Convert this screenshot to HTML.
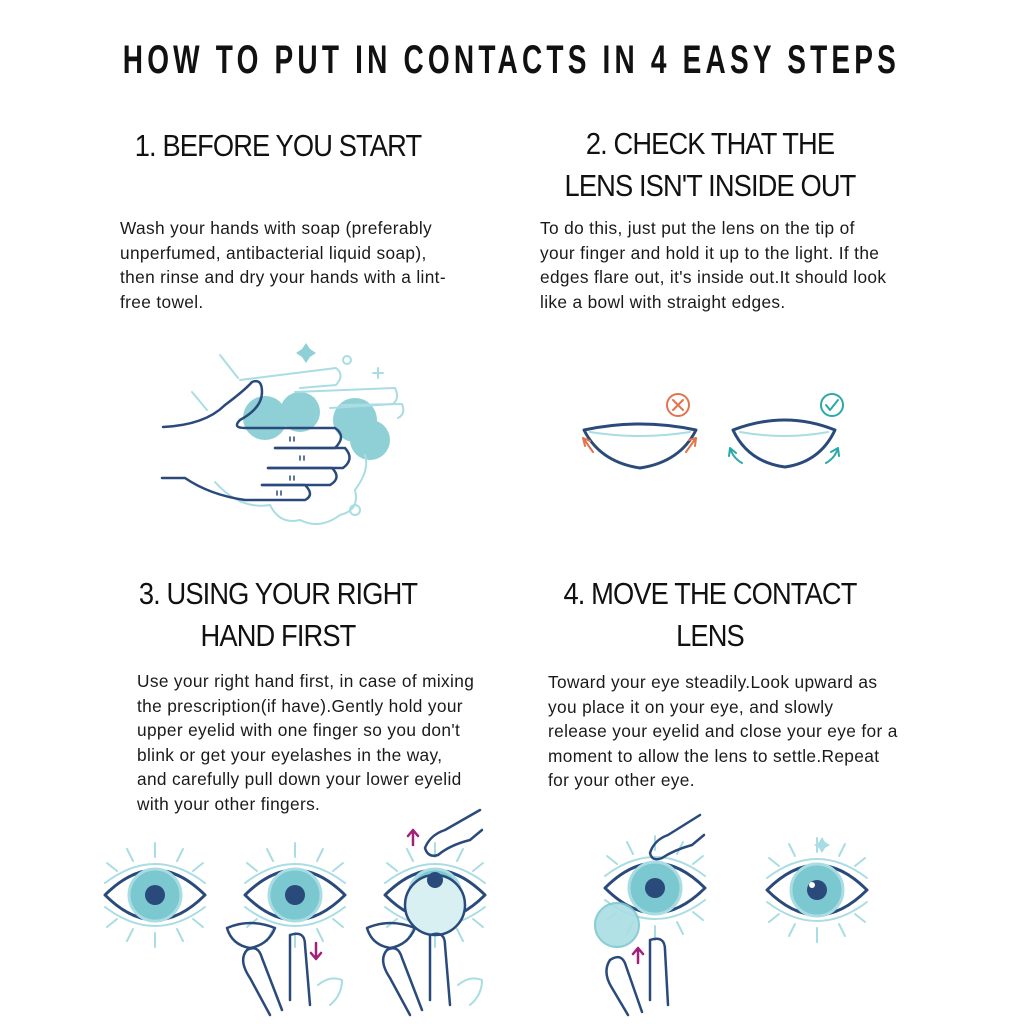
<!DOCTYPE html>
<html><head><meta charset="utf-8"><style>
html,body{margin:0;padding:0;background:#fff;}
body{width:1024px;height:1024px;position:relative;overflow:hidden;font-family:"Liberation Sans",sans-serif;color:#111;}
.t{position:absolute;white-space:nowrap;}
.title{left:-300px;width:1624px;text-align:center;top:38px;font-weight:bold;font-size:40px;letter-spacing:6px;transform:scaleX(0.70);transform-origin:810px 0;}
.h{font-size:31px;letter-spacing:-1px;text-align:center;width:440px;line-height:42px;color:#111;transform:scaleX(0.88);}
.p{font-size:17.3px;line-height:24.5px;color:#1a1a1a;letter-spacing:0.35px;}
</style></head><body>
<div class="t title">HOW TO PUT IN CONTACTS IN 4 EASY STEPS</div>

<div class="t h" style="left:58px;top:125px;">1. BEFORE YOU START</div>
<div class="t h" style="left:490px;top:123px;">2. CHECK THAT THE<br>LENS ISN'T INSIDE OUT</div>
<div class="t h" style="left:58px;top:573px;">3. USING YOUR RIGHT<br>HAND FIRST</div>
<div class="t h" style="left:490px;top:573px;">4. MOVE THE CONTACT<br>LENS</div>

<div class="t p" style="left:120px;top:216px;">Wash your hands with soap (preferably<br>unperfumed, antibacterial liquid soap),<br>then rinse and dry your hands with a lint-<br>free towel.</div>
<div class="t p" style="left:540px;top:216px;">To do this, just put the lens on the tip of<br>your finger and hold it up to the light. If the<br>edges flare out, it's inside out.It should look<br>like a bowl with straight edges.</div>
<div class="t p" style="left:137px;top:669px;">Use your right hand first, in case of mixing<br>the prescription(if have).Gently hold your<br>upper eyelid with one finger so you don't<br>blink or get your eyelashes in the way,<br>and carefully pull down your lower eyelid<br>with your other fingers.</div>
<div class="t p" style="left:548px;top:670px;">Toward your eye steadily.Look upward as<br>you place it on your eye, and slowly<br>release your eyelid and close your eye for a<br>moment to allow the lens to settle.Repeat<br>for your other eye.</div>

<svg width="1024" height="1024" style="position:absolute;left:0;top:0" fill="none" stroke-linecap="round" stroke-linejoin="round">
<g>
 <circle cx="265" cy="418" r="22" fill="#8fd0d6"/><circle cx="300" cy="412" r="20" fill="#8fd0d6"/>
 <circle cx="355" cy="420" r="22" fill="#8fd0d6"/><circle cx="370" cy="440" r="20" fill="#8fd0d6"/>
 <circle cx="310" cy="402" r="6" fill="#8fd0d6"/>
 <g stroke="#a9dde3" stroke-width="2">
  <path d="M240 380 L336 368 Q345 375 336 385 L300 388"/>
  <path d="M295 392 L395 388 Q400 398 393 404 L330 408"/>
  <path d="M340 405 L402 404 Q406 414 398 418"/>
  <path d="M220 355 L238 378 M192 392 L207 410"/>
  <circle cx="347" cy="360" r="4"/><circle cx="355" cy="510" r="5"/>
  <path d="M378 368 v10 M373 373 h10"/>
  <path d="M215 482 Q240 510 270 505 Q280 525 300 520 Q320 530 340 515 Q360 510 355 490"/>
  <path d="M355 490 Q370 470 365 455"/>
 </g>
 <path d="M306 343 l4 6 l6 4 l-6 4 l-4 6 l-4 -6 l-6 -4 l6 -4z" fill="#8fd0d6"/>
 <g stroke="#2a4a7c" stroke-width="2.5">
  <path d="M163 427 Q205 425 225 405 Q245 390 252 382 Q262 378 262 392 Q262 408 240 420 Q232 428 245 428 L335 428 Q347 436 335 448 L275 448"/>
  <path d="M275 448 L345 448 Q355 459 343 468 L268 468"/>
  <path d="M268 468 L332 468 Q342 478 330 485 L262 485"/>
  <path d="M262 485 L305 485 Q315 495 305 500 L245 500 Q210 495 185 478 L162 478"/>
 </g>
 <g stroke="#2a4a7c" stroke-width="1.5"><path d="M290 437v4M294 437v4M300 456v4M304 456v4M290 476v4M294 476v4M277 491v4M281 491v4"/></g>
</g>
<g stroke="#2a4a7c" stroke-width="3">
 <path d="M584 430 Q640 418 696 430 Q680 462 640 468 Q600 462 584 430z"/>
 <path d="M733 430 Q785 410 835 430 Q820 462 785 467 Q748 462 733 430z"/>
</g>
<g stroke="#a9dde3" stroke-width="2"><path d="M590 432 Q640 440 690 432 M740 432 Q785 440 828 432"/></g>
<g stroke="#e2744d" stroke-width="2"><circle cx="678" cy="405" r="11"/><path d="M673 400l10 10M683 400l-10 10"/><path d="M593 452 L583 438 M583 438 l2 8 M583 438 l7 3 M686 452 L696 438 M696 438 l-7 2 M696 438 l-1 8"/></g>
<g stroke="#2aa9a8" stroke-width="2"><circle cx="832" cy="405" r="11"/><path d="M826 405l4 5l8 -10"/><path d="M742 463 Q733 458 730 448 M730 448 l-1 8 M730 448 l6 5 M826 463 Q835 458 838 448 M838 448 l-7 4 M838 448 l1 8"/></g>

<defs>
<g id="eye">
 <g stroke="#a9dde3" stroke-width="2">
  <path d="M-50 -12 Q0 -50 50 -12"/><path d="M-50 12 Q0 50 50 12"/>
  <path d="M0 -38v-14M-22 -34l-6 -12M22 -34l6 -12M-38 -24l-10 -8M38 -24l10 -8M0 38v14M-22 34l-6 12M22 34l6 12M-38 24l-10 8M38 24l10 8"/>
 </g>
 <path d="M-50 0 Q0 -50 50 0 Q0 50 -50 0z" stroke="#2a4a7c" stroke-width="3" fill="#fff"/>
 <circle r="26" fill="#7cc8d0" stroke="#a9dde3" stroke-width="3"/>
 <circle r="10" fill="#2a4a7c"/>
</g>
</defs>
<use href="#eye" x="155" y="895"/>
<use href="#eye" x="295" y="895"/>
<use href="#eye" x="435" y="895"/>
<use href="#eye" x="655" y="888"/>
<use href="#eye" x="817" y="890"/>
<circle cx="435" cy="905" r="30" fill="#d8f0f2" stroke="#2a4a7c" stroke-width="2.5"/>
<circle cx="435" cy="880" r="8" fill="#2a4a7c"/>
<circle cx="617" cy="925" r="22" fill="#a9dde3" stroke="#7cc8d0" stroke-width="2" opacity="0.9"/>
<circle cx="817" cy="890" r="7" fill="#2a4a7c"/><circle cx="812" cy="885" r="3" fill="#fff"/>
<path d="M822 837 l3 5 l5 3 l-5 3 l-3 5 l-3 -5 l-5 -3 l5 -3z" fill="#a9dde3"/>
<g stroke="#2a4a7c" stroke-width="2.5">
 <path d="M227 928 Q250 918 275 928 Q268 945 250 948 Q232 945 227 928z"/>
 <path d="M247 950 Q258 944 262 958 L282 1010 M247 950 Q238 960 250 978 L270 1015"/>
 <path d="M290 935 Q305 930 305 945 L310 1005 M290 935 L290 1000"/>
 <path d="M367 928 Q390 918 415 928 Q408 945 390 948 Q372 945 367 928z"/>
 <path d="M387 950 Q398 944 402 958 L422 1010 M387 950 Q378 960 390 978 L410 1015"/>
 <path d="M430 935 Q445 930 445 945 L450 1005 M430 935 L430 1000"/>
 <path d="M425 848 Q430 835 445 830 L480 810 M438 855 Q450 845 470 840 L482 830 M425 848 Q428 858 438 855"/>
 <path d="M610 960 Q622 952 626 966 L642 1012 M610 960 Q602 972 612 988 L628 1015"/>
 <path d="M650 940 Q665 935 665 950 L668 1005 M650 940 L650 1000"/>
 <path d="M650 853 Q654 840 668 835 L700 815 M662 858 Q674 850 692 845 L704 835 M650 853 Q652 862 662 858"/>
</g>
<g stroke="#a9dde3" stroke-width="2"><path d="M318 985 Q330 975 342 980 Q342 995 330 1005 M458 985 Q470 975 482 980 Q482 995 470 1005"/></g>
<g stroke="#a0207a" stroke-width="2.5"><path d="M316 943v15M311 953l5 6l5 -6M413 845v-14M408 836l5 -6l5 6M638 963v-14M633 954l5 -6l5 6"/></g>
</svg>
</body></html>
